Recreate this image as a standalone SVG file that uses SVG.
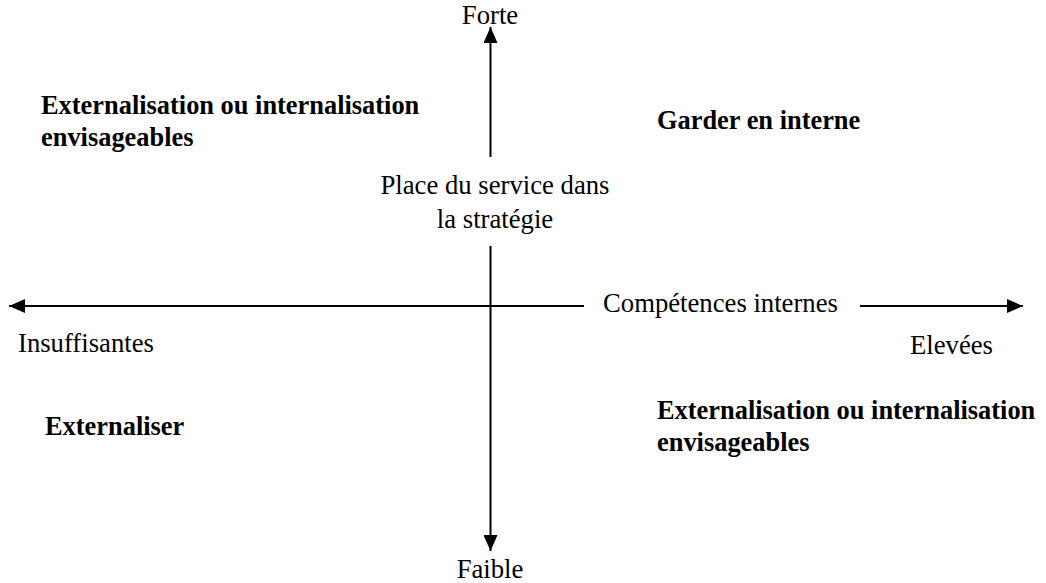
<svg xmlns="http://www.w3.org/2000/svg" width="1046" height="583" viewBox="0 0 1046 583">
<style>
.t{font-family:"Liberation Serif","Times New Roman",serif;font-size:26.7px;fill:#000}
.b{font-weight:bold;font-size:26.4px}
.c{text-anchor:middle}
.ax{stroke:#000;stroke-width:2;fill:none}
</style>
<defs>
<marker id="ah" viewBox="0 0 16 14" refX="16" refY="7" markerWidth="16" markerHeight="14" markerUnits="userSpaceOnUse" orient="auto">
<path d="M0,0 L16,7 L0,14 Z" fill="#000"/>
</marker>
</defs>
<rect width="1046" height="583" fill="#fff"/>
<g id="connectors">
<line class="ax" x1="490.5" y1="157" x2="490.5" y2="27" marker-end="url(#ah)"/>
<line class="ax" x1="490.5" y1="246" x2="490.5" y2="551" marker-end="url(#ah)"/>
<line class="ax" x1="584" y1="306" x2="9" y2="306" marker-end="url(#ah)"/>
<line class="ax" x1="860" y1="306" x2="1023" y2="306" marker-end="url(#ah)"/>
</g>
<g id="forte"><text class="t c" x="490" y="24">Forte</text></g>
<g id="faible"><text class="t c" x="490" y="578">Faible</text></g>
<g id="insuffisantes"><text class="t" x="18" y="352">Insuffisantes</text></g>
<g id="elevees"><text class="t" x="910" y="354">Elevées</text></g>
<g id="competences"><text class="t" x="603" y="312">Compétences internes</text></g>
<g id="place"><text class="t c" x="495" y="194">Place du service dans</text><text class="t c" x="495" y="228">la stratégie</text></g>
<g id="q-top-left"><text class="t b" x="41" y="114">Externalisation ou internalisation</text><text class="t b" x="41" y="146">envisageables</text></g>
<g id="q-top-right"><text class="t b" x="657" y="129">Garder en interne</text></g>
<g id="q-bottom-left"><text class="t b" x="45" y="435">Externaliser</text></g>
<g id="q-bottom-right"><text class="t b" x="657" y="419">Externalisation ou internalisation</text><text class="t b" x="657" y="451">envisageables</text></g>
</svg>
